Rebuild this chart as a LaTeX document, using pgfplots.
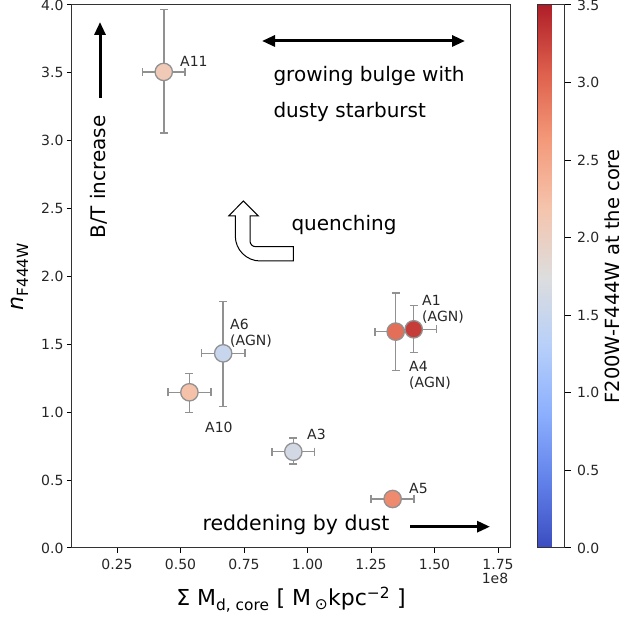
\documentclass[border=0pt]{standalone}
\usepackage{pgfplots}
\pgfplotsset{compat=1.18}
\usepackage{pgfplotstable}
\usepackage{fontspec}
\setmainfont{DejaVu Sans}
\usetikzlibrary{arrows.meta}
\definecolor{errgray}{RGB}{145,145,145}
\definecolor{edgegray}{RGB}{145,145,145}

\pgfplotstableread{
x y exp exm eyp eym c
0.434 3.507 0.084 0.084 0.46 0.45 2.10
0.535 1.147 0.084 0.084 0.14 0.15 2.22
0.668 1.434 0.085 0.085 0.38 0.39 1.50
0.944 0.709 0.084 0.084 0.10 0.09 1.62
1.335 0.361 0.085 0.085 0.03 0.03 2.75
1.347 1.594 0.082 0.082 0.285 0.288 2.95
1.418 1.611 0.090 0.090 0.175 0.172 3.30
}\data

\begin{document}
\begin{tikzpicture}
\path[use as bounding box] (0pt,0pt) rectangle (624pt,617pt);
\begin{axis}[
  at={(72pt,69pt)}, anchor=south west,
  scale only axis, width=438pt, height=543pt,
  xmin=0.0728, xmax=1.797, ymin=0, ymax=4,
  xtick={0.25,0.5,0.75,1.0,1.25,1.5,1.75},
  ytick={0,0.5,1,1.5,2,2.5,3,3.5,4},
  scaled x ticks=false,
  xticklabel style={yshift=-3pt, /pgf/number format/.cd, fixed, fixed zerofill, precision=2},
  yticklabel style={/pgf/number format/.cd, fixed, fixed zerofill, precision=1},
  /pgf/number format/assume math mode=true,
  tick label style={font=\fontsize{14}{16}\selectfont, text=black!85},
  tick align=outside, tick pos=left, major tick length=5pt,
  every tick/.style={black, line width=1pt},
  axis line style={black!80, line width=1pt},
  label style={font=\fontsize{22}{24}\selectfont},
  xlabel={Σ M\textsubscript{d, core} [ M\,\textsubscript{⊙}kpc\textsuperscript{−2} ]},
  xlabel style={at={(axis description cs:0.5,-0.1068)}, anchor=base},
  ylabel={\textit{n}\textsubscript{F444W}},
  ylabel style={at={(axis description cs:-0.119,0.5)}, anchor=center},
  colormap={coolwarm}{rgb255=(59,76,192) rgb255=(98,130,234) rgb255=(141,176,254) rgb255=(184,208,249) rgb255=(221,221,221) rgb255=(245,196,173) rgb255=(244,154,123) rgb255=(222,96,77) rgb255=(175,30,40)},
  point meta min=0, point meta max=3.5,
  colorbar,
  colorbar style={
    at={(parent axis.north east)}, anchor=north west, xshift=19pt,
    width=27pt,
    ytick={0,0.5,1,1.5,2,2.5,3,3.5},
    yticklabel style={xshift=3pt, font=\fontsize{14}{16}\selectfont, text=black!85, /pgf/number format/.cd, fixed, fixed zerofill, precision=1},
    /pgf/number format/assume math mode=true,
    tick align=outside, major tick length=6pt,
    ytick pos=right,
    every tick/.style={black, line width=1pt},
    axis line style={black!80, line width=1pt},
  },
]
\addplot[scatter, only marks, mark=*, mark size=8.7pt,
  scatter/use mapped color={draw=edgegray, fill=mapped color},
  mark options={line width=1.3pt},
  point meta=explicit,
  error bars/.cd, x dir=both, x explicit, y dir=both, y explicit,
  error bar style={draw=errgray, line width=1.5pt},
  error mark options={rotate=90, draw=errgray, mark size=4pt, line width=1.5pt}]
  table[x=x, y=y, meta=c, x error plus=exp, x error minus=exm, y error plus=eyp, y error minus=eym]{\data};
\end{axis}
\begin{scope}[x=1pt, y=1pt]
\node[rotate=90, font=\fontsize{19.5}{22}\selectfont, inner sep=0pt] at (612.5,340.5) {F200W-F444W at the core};
\draw[line width=3pt, -{Triangle[length=13pt,width=11pt]}] (100,519) -- (100,595);
\draw[line width=3pt, {Triangle[length=13pt,width=11pt]}-{Triangle[length=13pt,width=11pt]}] (262,576) -- (465,576);
\draw[line width=3pt, -{Triangle[length=13pt,width=11pt]}] (410,90.3) -- (490,90.3);
\draw[fill=white, line width=1pt] (243.3,416) -- (258.3,401) -- (250,401) -- (250,376)
  arc[start angle=180, end angle=270, radius=5.7] -- (293.3,370.3) -- (293.3,356) -- (260.3,356)
  arc[start angle=270, end angle=180, radius=25] -- (235.3,401) -- (228.7,401) -- cycle;
\node[rotate=90, font=\fontsize{20}{22}\selectfont] at (99,440) {B/T increase};
\node[anchor=west, font=\fontsize{20}{22}\selectfont] at (270,541) {growing bulge with};
\node[anchor=west, font=\fontsize{20}{22}\selectfont] at (270,505) {dusty starburst};
\node[anchor=west, font=\fontsize{20}{22}\selectfont] at (288,392) {quenching};
\node[anchor=west, font=\fontsize{20.5}{22}\selectfont] at (199,92) {reddening by dust};
\begin{scope}[every node/.style={font=\fontsize{14}{16}\selectfont, text=black!85, inner sep=0pt, align=left}]
\node[anchor=west] at (180,556) {A11};
\node[anchor=west] at (230,284) {A6\\(AGN)};
\node[anchor=west] at (205,190) {A10};
\node[anchor=west] at (307,183) {A3};
\node[anchor=west] at (409,128) {A5};
\node[anchor=west] at (422,308) {A1\\(AGN)};
\node[anchor=west] at (409,242) {A4\\(AGN)};
\node at (495,39) {1e8};
\end{scope}
\end{scope}
\end{tikzpicture}
\end{document}
